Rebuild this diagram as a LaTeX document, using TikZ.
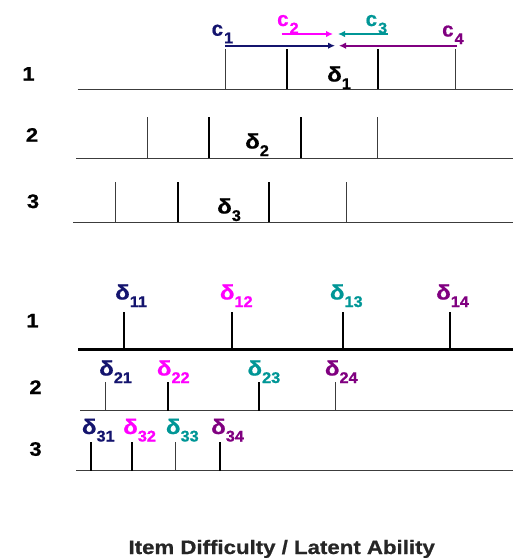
\documentclass[tikz,border=0pt]{standalone}
\usepackage{fontspec}
\setmainfont{Liberation Sans}[BoldFeatures={FakeBold=0.8}]
\usetikzlibrary{arrows.meta}
\definecolor{cnavy}{RGB}{20,20,110}
\definecolor{cmag}{RGB}{255,0,255}
\definecolor{cteal}{RGB}{0,150,150}
\definecolor{cpurp}{RGB}{128,0,128}
\definecolor{lgray}{RGB}{60,60,60}
\newcommand{\hs}[1]{\scalebox{1.12}[1]{#1}}
\newcommand{\dlt}[1]{\scalebox{1.15}[1]{\fontsize{21}{21}\selectfont δ}\raisebox{-7.5pt}{\scalebox{1.05}[1]{\fontsize{15.5}{15.5}\selectfont #1}}}
\newcommand{\ccl}[1]{{\fontsize{20.5}{20.5}\selectfont c}\kern1pt\raisebox{-7.5pt}{\scalebox{1.05}[1]{\fontsize{15.5}{15.5}\selectfont #1}}}
\begin{document}
\begin{tikzpicture}[x=1pt,y=-1pt,
  lbl/.style={inner sep=0pt,anchor=base west,font=\bfseries},
  rowlbl/.style={inner sep=0pt,anchor=base,font=\bfseries\fontsize{19.5}{19.5}\selectfont},
  tkthin/.style={line width=1pt,draw=lgray},
  tkbold/.style={line width=1.7pt,draw=black},
  axtop/.style={line width=1.2pt,draw=lgray},
  axbold/.style={line width=2.4pt,draw=black},
  axgray/.style={line width=1.4pt,draw=lgray},
  arr/.style={line width=1.8pt,-{Latex[length=7pt,width=6.5pt]}}]
\useasboundingbox (0,0) rectangle (513,558);
% axes and ticks
\foreach \r/\y/\tp/\xl/\ax/\ticks in {
  A/89.3/49.3/77.7/axtop/{225.7/thin,287.3/bold,378.3/bold,455.3/thin},
  B/158.3/117/76/axtop/{147.7/thin,209.3/bold,301/bold,377.7/thin},
  C/222.3/181.7/73/axtop/{115.7/thin,178.3/bold,269/bold,346.7/thin},
  D/349.3/311.7/78/axbold/{124/bold,231.7/bold,342.7/bold,450/bold},
  E/410.7/381.7/80/axgray/{105.3/thin,167.7/bold,258.7/bold,335.3/thin},
  F/470.7/442.3/76/axgray/{91/bold,132/bold,175/thin,219.7/bold}}{
  \coordinate (\r L) at (\xl,\y);
  \coordinate (\r R) at (513,\y);
  \draw[\ax] (\r L) -- (\r R);
  \foreach \x/\s [count=\i] in \ticks {
    \coordinate (\r\i b) at (\x,\y);
    \coordinate (\r\i t) at (\x,\tp);
    \draw[tk\s] (\r\i b) -- (\r\i t);
  }
}
% arrows
\coordinate (c1s) at (225,45.7); \coordinate (c1e) at (335,45.7);
\coordinate (c4s) at (457,45.7); \coordinate (c4e) at (339,45.7);
\coordinate (c2s) at (281.7,34); \coordinate (c2e) at (333,34);
\coordinate (c3s) at (388,34); \coordinate (c3e) at (338,34);
\draw[arr,cnavy] (c1s) -- (c1e);
\draw[arr,cpurp] (c4s) -- (c4e);
\draw[arr,cmag] (c2s) -- (c2e);
\draw[arr,cteal] (c3s) -- (c3e);
% c labels
\node[lbl,text=cnavy] (lc1) at (211.5,35.7) {\ccl{1}};
\node[lbl,text=cmag] (lc2) at (277,26) {\ccl{2}};
\node[lbl,text=cteal] (lc3) at (365.5,26) {\ccl{3}};
\node[lbl,text=cpurp] (lc4) at (442,36.5) {\ccl{4}};
% top deltas
\node[lbl] (d1) at (327,81.5) {\dlt{1}};
\node[lbl] (d2) at (245,148.5) {\dlt{2}};
\node[lbl] (d3) at (217,213.5) {\dlt{3}};
% bottom deltas
\node[lbl,text=cnavy] (d11) at (115,299.5) {\dlt{11}};
\node[lbl,text=cmag] (d12) at (219.7,299.5) {\dlt{12}};
\node[lbl,text=cteal] (d13) at (329.7,299.5) {\dlt{13}};
\node[lbl,text=cpurp] (d14) at (436,299.5) {\dlt{14}};
\node[lbl,text=cnavy] (d21) at (99,375.5) {\dlt{21}};
\node[lbl,text=cmag] (d22) at (156.7,375.5) {\dlt{22}};
\node[lbl,text=cteal] (d23) at (247.3,375.5) {\dlt{23}};
\node[lbl,text=cpurp] (d24) at (324.7,375.5) {\dlt{24}};
\node[lbl,text=cnavy] (d31) at (81.7,434) {\dlt{31}};
\node[lbl,text=cmag] (d32) at (123,434) {\dlt{32}};
\node[lbl,text=cteal] (d33) at (165.7,434) {\dlt{33}};
\node[lbl,text=cpurp] (d34) at (211,434) {\dlt{34}};
% row labels
\node[rowlbl] (r1) at (28.5,80.5) {\hs{1}};
\node[rowlbl] (r2) at (32,141.7) {\hs{2}};
\node[rowlbl] (r3) at (33,208) {\hs{3}};
\node[rowlbl] (s1) at (32.5,327.3) {\hs{1}};
\node[rowlbl] (s2) at (35.5,394) {\hs{2}};
\node[rowlbl] (s3) at (35.5,455.7) {\hs{3}};
% title
\node[inner sep=0pt,anchor=base,font=\bfseries\fontsize{19.5}{19.5}\selectfont,text=black!85] (title) at (281.7,554) {\scalebox{1.14}[1]{Item Difficulty / Latent Ability}};
\end{tikzpicture}
\end{document}
